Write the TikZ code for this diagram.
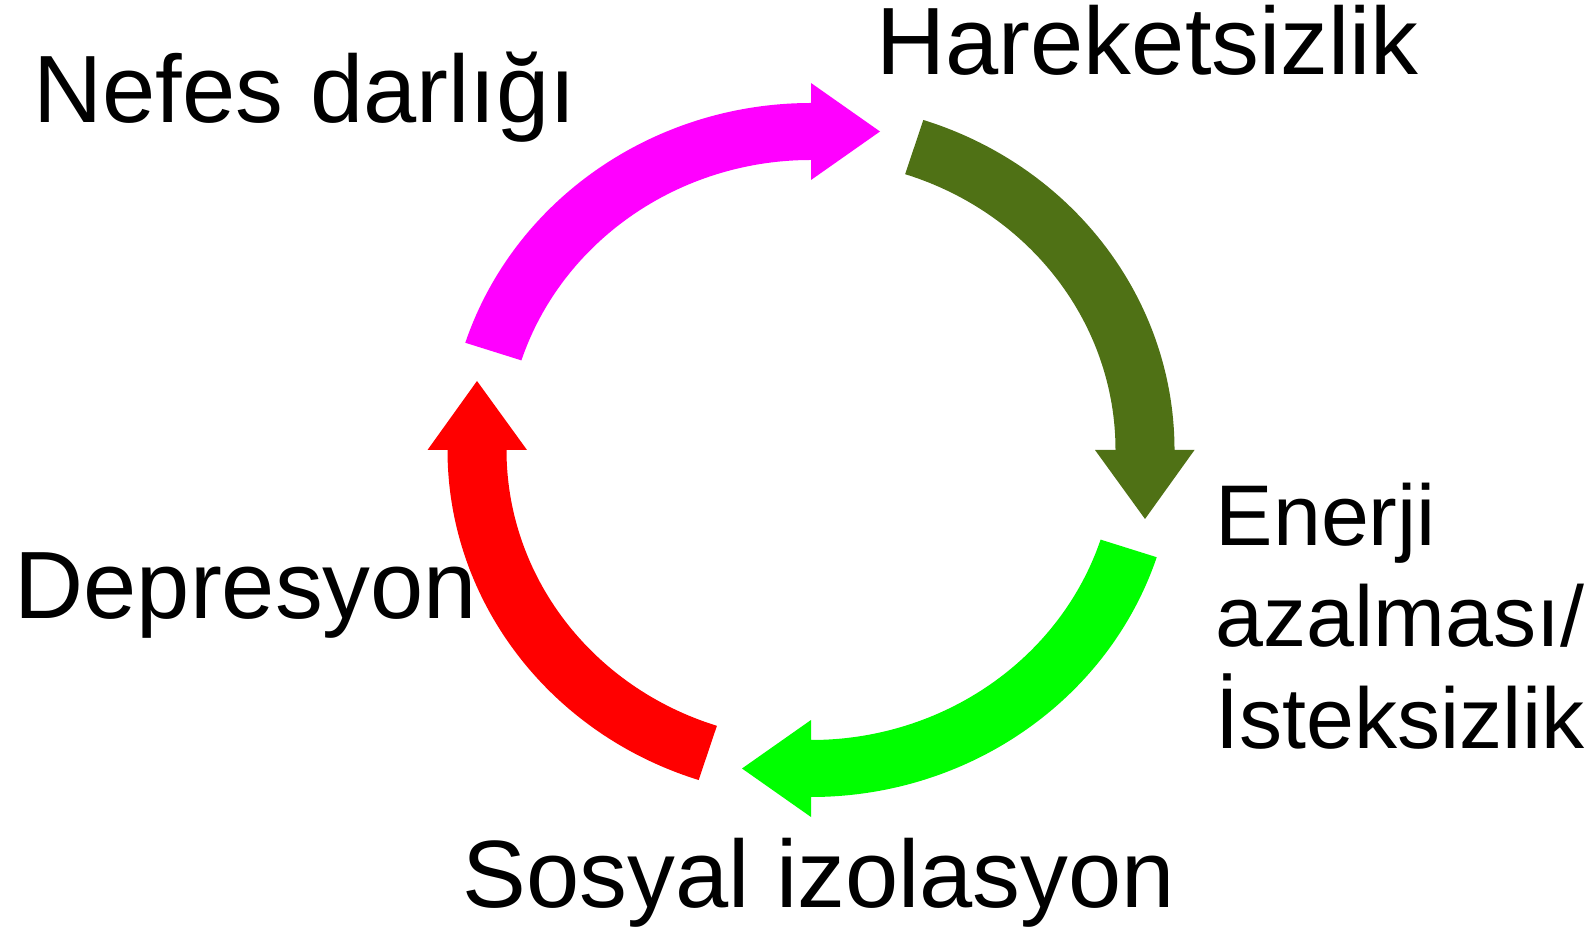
\documentclass[tikz,border=0pt]{standalone}
\usepackage{fontspec}
\setmainfont{Liberation Sans}
\usepackage{xcolor}
\usetikzlibrary{calc}
\definecolor{Fuchsia}{RGB}{255,0,255}
\definecolor{DarkOlive}{RGB}{79,113,21}
\definecolor{BrightGreen}{RGB}{0,255,0}
\definecolor{BrightRed}{RGB}{255,0,0}

\begin{document}
\begin{tikzpicture}[x=0.01cm,y=0.01cm,
		txt/.style={font=\fontsize{27.2pt}{28.74pt}\selectfont,inner sep=0pt,anchor=base west},
		outarc/.style={x radius=363.5,y radius=347},
		inarc/.style={x radius=304.5,y radius=290}]
		\useasboundingbox (0,0) rectangle (1594,930);
		\coordinate (C) at (811,480);
		
		% 品红箭头：左上 -> 上
		\fill[Fuchsia] ($(C)+(162:363.5 and 347)$) arc[outarc,start angle=162,end angle=90]
			-- ++(0,20) -- ($(C)+(69,318.5)$) -- ($(C)+(0,270)$) -- ($(C)+(0,290)$)
			arc[inarc,start angle=90,end angle=162] -- cycle;
		
		% 橄榄绿箭头：右上 -> 右
		\fill[DarkOlive] ($(C)+(72:363.5 and 347)$) arc[outarc,start angle=72,end angle=0]
			-- ++(20,0) -- ($(C)+(334,-69)$) -- ($(C)+(284,0)$) -- ($(C)+(304.5,0)$)
			arc[inarc,start angle=0,end angle=72] -- cycle;
		
		% 绿色箭头：右下 -> 下
		\fill[BrightGreen] ($(C)+(-18:363.5 and 347)$) arc[outarc,start angle=-18,end angle=-90]
			-- ++(0,-20) -- ($(C)+(-69,-318.5)$) -- ($(C)+(0,-270)$) -- ($(C)+(0,-290)$)
			arc[inarc,start angle=-90,end angle=-18] -- cycle;
		
		% 红色箭头：左下 -> 左
		\fill[BrightRed] ($(C)+(252:363.5 and 347)$) arc[outarc,start angle=252,end angle=180]
			-- ++(-20,0) -- ($(C)+(-334,69)$) -- ($(C)+(-284,0)$) -- ($(C)+(-304.5,0)$)
			arc[inarc,start angle=180,end angle=252] -- cycle;
		
		% 标注
		\node[txt] (nefes) at (33,807) {Nefes darlığı};
		\node[txt] (hareket) at (876,855) {Hareketsizlik};
		\node[txt,align=left,font=\fontsize{24.5pt}{28.74pt}\selectfont] (enerji) at (1215,182) {Enerji\\azalması/\\İsteksizlik};
		\node[txt] (sosyal) at (462,23) {Sosyal izolasyon};
		\node[txt] (depresyon) at (14,311) {Depresyon};
	\end{tikzpicture}
\end{document}
